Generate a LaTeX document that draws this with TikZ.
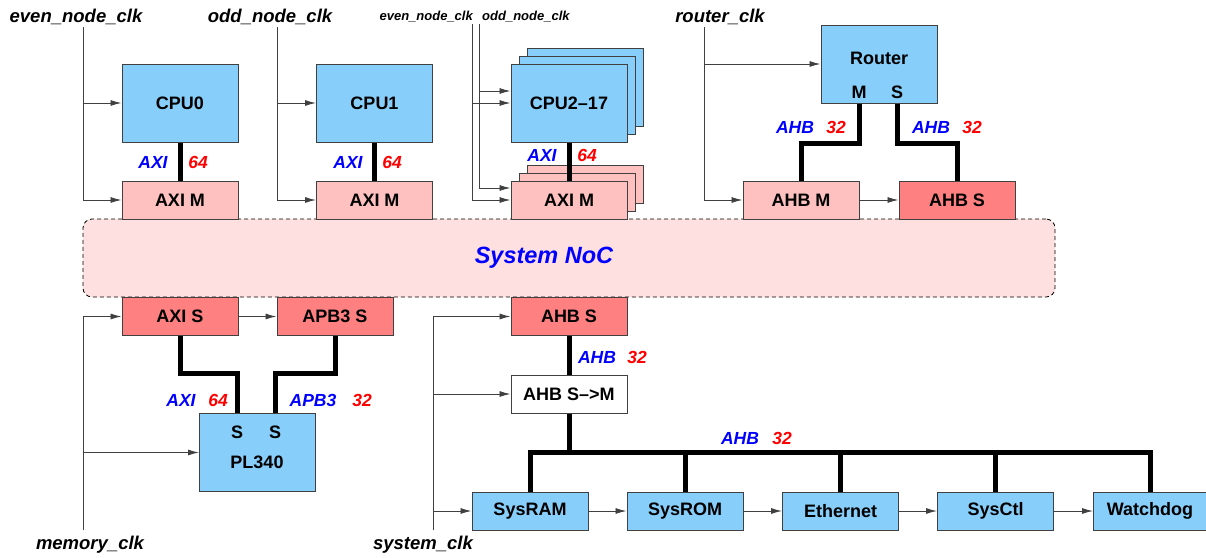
\documentclass[tikz,border=0pt]{standalone}
\usepackage{fontspec}
\setmainfont{Liberation Sans}
\usetikzlibrary{arrows.meta,calc}
\definecolor{CoreBlue}{HTML}{87CEFA}
\definecolor{PortPink}{HTML}{FFC0C0}
\definecolor{PortRed}{HTML}{FF8080}
\definecolor{NocTint}{HTML}{FFE0E0}
\definecolor{EdgeGray}{HTML}{404040}
\tikzset{
  clkarrow/.style={-{Latex[length=11pt,width=6pt]},line width=0.9pt,draw=EdgeGray},
  busline/.style={line width=5pt,draw=black},
  block/.style={draw=EdgeGray,line width=1pt,minimum width=116pt,minimum height=38pt,inner sep=0pt,font=\fontsize{18}{20}\selectfont\bfseries},
  core/.style={block,fill=CoreBlue,minimum height=78pt},
  periph/.style={block,fill=CoreBlue},
  mport/.style={block,fill=PortPink},
  sport/.style={block,fill=PortRed},
  bridge/.style={block,fill=white},
  noc/.style={draw=black,dash pattern=on 4pt off 3pt,line width=0.8pt,rounded corners=9pt,fill=NocTint,minimum width=972pt,minimum height=78pt},
  clkname/.style={inner sep=0pt,font=\fontsize{18.5}{20}\selectfont\bfseries\itshape},
  smallclk/.style={inner sep=0pt,font=\fontsize{13}{15}\selectfont\bfseries\itshape},
  busproto/.style={inner sep=0pt,font=\fontsize{17.5}{19}\selectfont\bfseries\itshape,text=blue},
  buswidth/.style={inner sep=0pt,font=\fontsize{17.5}{19}\selectfont\bfseries\itshape,text=red},
  portname/.style={inner sep=0pt,font=\fontsize{18}{20}\selectfont\bfseries}
}

\begin{document}
\begin{tikzpicture}[x=1pt,y=-1pt]
  \useasboundingbox (0,0) rectangle (1206,557);

  % clock names and their lines
  \node[clkname] (evenlbl) at (76,17) {even\_node\_clk};
  \node[clkname] (oddlbl) at (270,17) {odd\_node\_clk};
  \node[smallclk,anchor=east] (evenlbl2) at (473,17) {even\_node\_clk};
  \node[smallclk,anchor=west] (oddlbl2) at (482,17) {odd\_node\_clk};
  \node[clkname] (routerlbl) at (720,17) {router\_clk};
  \node[clkname] (memlbl) at (90,545) {memory\_clk};
  \node[clkname] (syslbl) at (423,545) {system\_clk};
  \coordinate (evenclk) at (83,27);
  \coordinate (oddclk) at (277,27);
  \coordinate (evenclk2) at (472,24);
  \coordinate (oddclk2) at (479,24);
  \coordinate (routerclk) at (704,27);
  \coordinate (memclk) at (83,530);
  \coordinate (sysclk) at (433,530);

  % interconnect
  \node[noc] (noc) at (569,258) {};
  \node[font=\fontsize{23.5}{27}\selectfont\bfseries\itshape,text=blue] (noclbl) at (544,258) {System NoC};

  % processors
  \node[core] (cpu0) at (180,103) {CPU0};
  \node[mport] (axim0) at (180,200) {AXI M};
  \node[core] (cpu1) at (374.5,103) {CPU1};
  \node[mport] (axim1) at (374.5,200) {AXI M};
  \node[core] (cpu2c) at (585,87) {};
  \node[core] (cpu2b) at (577,95) {};
  \node[core] (cpu2) at (569,103) {CPU2--17};
  \node[mport] (axim2c) at (585,184) {};
  \node[mport] (axim2b) at (577,192) {};
  \node[mport] (axim2) at (569,200) {AXI M};

  % router
  \node[core] (router) at (879,64) {};
  \node[portname] (routertxt) at (879,58) {Router};
  \node[portname] (rtm) at (859,92) {M};
  \node[portname] (rts) at (897,92) {S};
  \node[mport] (ahbm) at (801,200) {AHB M};
  \node[sport] (ahbs1) at (957,200) {AHB S};

  % memory side
  \node[sport] (axis) at (180,316.5) {AXI S};
  \node[sport] (apbs) at (335,316.5) {APB3 S};
  \node[core] (pl340) at (257.5,452.5) {};
  \node[portname] (pls1) at (237,432) {S};
  \node[portname] (pls2) at (275,432) {S};
  \node[portname] (pltxt) at (257,462) {PL340};

  % system side
  \node[sport] (ahbs2) at (569,316.5) {AHB S};
  \node[bridge] (ahbsm) at (569,394) {AHB S-->M};
  \node[periph] (sysram) at (530,511) {SysRAM};
  \node[periph] (sysrom) at (685,511) {SysROM};
  \node[periph] (ethernet) at (840.5,511) {Ethernet};
  \node[periph] (sysctl) at (995.5,511) {SysCtl};
  \node[periph,minimum width=113pt] (watchdog) at (1150,511) {Watchdog};

  % bus labels
  \node[busproto] (cpu0p) at (153,162) {AXI};
  \node[buswidth] (cpu0w) at (198,162) {64};
  \node[busproto] (cpu1p) at (348,162) {AXI};
  \node[buswidth] (cpu1w) at (392,162) {64};
  \node[busproto] (cpu2p) at (542,155) {AXI};
  \node[buswidth] (cpu2w) at (587,155) {64};
  \node[busproto] (rtmp) at (795,127) {AHB};
  \node[buswidth] (rtmw) at (836,127) {32};
  \node[busproto] (rtsp) at (931,127) {AHB};
  \node[buswidth] (rtsw) at (972,127) {32};
  \node[busproto] (axip) at (181,400) {AXI};
  \node[buswidth] (axiw) at (218,400) {64};
  \node[busproto] (apbp) at (313,400) {APB3};
  \node[buswidth] (apbw) at (362,400) {32};
  \node[busproto] (ahbp) at (597,357) {AHB};
  \node[buswidth] (ahbw) at (637,357) {32};
  \node[busproto] (sysp) at (740,438) {AHB};
  \node[buswidth] (sysw) at (782,438) {32};

  % buses
  \draw[busline] (cpu0.south) -- (axim0.north);
  \draw[busline] (cpu1.south) -- (axim1.north);
  \draw[busline] (cpu2.south) -- (axim2.north);
  \draw[busline] (rtm |- router.south) -- ++(0,40) -| (ahbm.north);
  \draw[busline] (rts |- router.south) -- ++(0,40) -| (ahbs1.north);
  \draw[busline] (axis.south) -- ++(0,37) -| (pls1 |- pl340.north);
  \draw[busline] (apbs.south) -- ++(0,37) -| (pls2 |- pl340.north);
  \draw[busline] (ahbs2.south) -- (ahbsm.north);
  \draw[busline] (ahbsm.south) -- ++(0,40);
  \draw[busline] (sysram.north) -- ++(0,-39) -| (watchdog.north);
  \foreach \n in {sysrom,ethernet,sysctl}
    \draw[busline] (\n.north) -- ++(0,-39);

  % clocks
  \draw[clkarrow] (evenclk) |- (cpu0);
  \draw[clkarrow] (evenclk) |- (axim0);
  \draw[clkarrow] (oddclk) |- (cpu1);
  \draw[clkarrow] (oddclk) |- (axim1);
  \draw[clkarrow] (evenclk2) |- (cpu2);
  \draw[clkarrow] (evenclk2) |- (axim2);
  \draw[clkarrow] (oddclk2) |- ($(cpu2.west)+(0,-12)$);
  \draw[clkarrow] (oddclk2) |- ($(axim2.west)+(0,-12)$);
  \draw[clkarrow] (routerclk) |- (router);
  \draw[clkarrow] (routerclk) |- (ahbm);
  \draw[clkarrow] (memclk) |- (axis);
  \draw[clkarrow] (memclk) |- (pl340);
  \draw[clkarrow] (sysclk) |- (ahbs2);
  \draw[clkarrow] (sysclk) |- (ahbsm);
  \draw[clkarrow] (sysclk) |- (sysram);
  \draw[clkarrow] (axis) -- (apbs);
  \draw[clkarrow] (ahbm) -- (ahbs1);
  \draw[clkarrow] (sysram) -- (sysrom);
  \draw[clkarrow] (sysrom) -- (ethernet);
  \draw[clkarrow] (ethernet) -- (sysctl);
  \draw[clkarrow] (sysctl) -- (watchdog);
\end{tikzpicture}
\end{document}
